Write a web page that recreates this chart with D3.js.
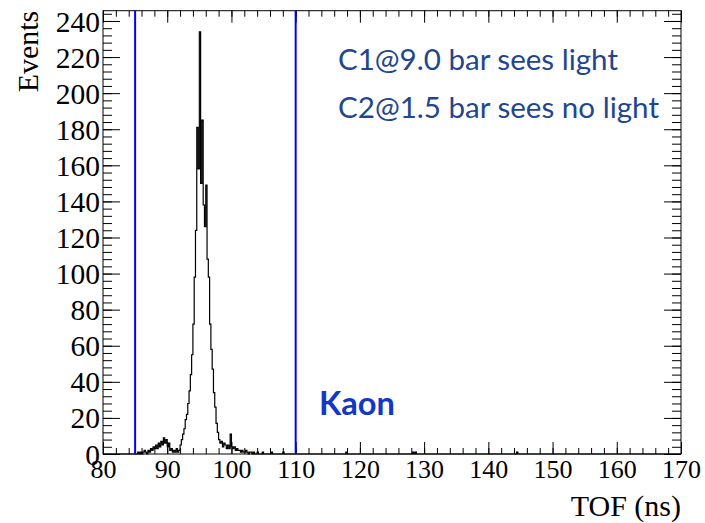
<!DOCTYPE html>
<html>
<head>
<meta charset="utf-8">
<script src="https://cdn.jsdelivr.net/npm/d3@7/dist/d3.min.js"></script>
<style>
  html, body { margin: 0; padding: 0; background: #fff; }
  svg { display: block; }
</style>
</head>
<body>
<svg id="chart" width="705" height="523"></svg>
<script>
// Time-of-flight histogram, 0.2 ns bins
const binWidth = 0.2;
const coreStart = 85.0;
// counts per bin starting at 85.0 ns
const coreCounts = [
  0, 0, 1, 0, 1, 0, 1, 2, 1, 0,
  2, 1, 3, 2, 4, 3, 5, 3, 6, 4,
  7, 5, 9, 6, 8, 4, 6, 2, 3, 1,
  2, 1, 3, 1, 2, 5, 8, 11, 14, 19,
  22, 28, 35, 44, 55, 72, 98, 124, 181, 158,
  234, 150, 185, 138, 126, 149, 108, 98, 72, 58,
  47, 34, 26, 17, 12, 8, 6, 7, 4, 6,
  5, 3, 5, 3, 11, 4, 3, 4, 2, 3,
  2, 2, 1, 2, 1, 1, 2, 1, 0, 1,
  1, 0, 1, 0, 0, 1, 0, 0, 0, 1,
  0, 0, 0, 0, 0, 0, 1, 0, 0, 0,
  0, 0, 0, 0, 0, 1, 0, 0, 0, 0,
  0, 0, 0, 0, 0
];
// isolated single entries further out (ns)
const lateHits = [117.9, 128.2, 128.6, 144.4];

const xTicks = [80, 90, 100, 110, 120, 130, 140, 150, 160, 170];
const yTicks = [0, 20, 40, 60, 80, 100, 120, 140, 160, 180, 200, 220, 240];
const cutLines = [85, 110];
const noteLines = ["C1@9.0 bar sees light", "C2@1.5 bar sees no light"];
const particle = "Kaon";

const xMin = 80, xMax = 170, yMax = 245.7;

const svg = d3.select("#chart");
const L = 103, R = 681, T = 10.7, B = 454;

const x = d3.scaleLinear().domain([xMin, xMax]).range([L, R]);
const y = d3.scaleLinear().domain([0, yMax]).range([B, T]);

// assemble full bin list over the axis range
const nBins = Math.round((xMax - xMin) / binWidth);
const counts = new Array(nBins).fill(0);
const off = Math.round((coreStart - xMin) / binWidth);
coreCounts.forEach((c, i) => { counts[off + i] = c; });
lateHits.forEach(v => { counts[Math.floor((v - xMin) / binWidth + 1e-9)] += 1; });
const steps = counts.map((c, i) => ({ t: xMin + i * binWidth, c }));
steps.push({ t: xMax, c: counts[nBins - 1] });

const serif = "'Liberation Serif', 'Times New Roman', serif";

// minor tick values
const xMinor = d3.range(xMin, xMax + 0.001, 2);
const yMinor = d3.range(0, yMax, 4);

// bottom axis: minor then major
const gxMinor = svg.append("g").attr("transform", `translate(0,${B})`)
  .call(d3.axisBottom(x).tickValues(xMinor).tickSize(-6).tickFormat(""));
const gx = svg.append("g").attr("transform", `translate(0,${B})`)
  .call(d3.axisBottom(x).tickValues(xTicks).tickSize(-12).tickPadding(6).tickFormat(d3.format("d")));
// top axis ticks
const gxtMinor = svg.append("g").attr("transform", `translate(0,${T})`)
  .call(d3.axisTop(x).tickValues(xMinor).tickSize(-6).tickFormat(""));
const gxt = svg.append("g").attr("transform", `translate(0,${T})`)
  .call(d3.axisTop(x).tickValues(xTicks).tickSize(-12).tickFormat(""));

// left axis
const gyMinor = svg.append("g").attr("transform", `translate(${L},0)`)
  .call(d3.axisLeft(y).tickValues(yMinor).tickSize(-9).tickFormat(""));
const gy = svg.append("g").attr("transform", `translate(${L},0)`)
  .call(d3.axisLeft(y).tickValues(yTicks).tickSize(-17).tickPadding(3).tickFormat(d3.format("d")));
// right axis ticks
const gyrMinor = svg.append("g").attr("transform", `translate(${R},0)`)
  .call(d3.axisRight(y).tickValues(yMinor).tickSize(-9).tickFormat(""));
const gyr = svg.append("g").attr("transform", `translate(${R},0)`)
  .call(d3.axisRight(y).tickValues(yTicks).tickSize(-17).tickFormat(""));

[gxMinor, gx, gxtMinor, gxt, gyMinor, gy, gyrMinor, gyr].forEach(g => {
  g.select(".domain").remove();
  g.selectAll(".tick line").attr("stroke", "#000").attr("stroke-width", 1);
});

gx.selectAll(".tick text")
  .attr("font-family", serif).attr("font-size", 26).attr("fill", "#000")
  .attr("dy", "0.7em");
gy.selectAll(".tick text")
  .attr("font-family", serif).attr("font-size", 29.5).attr("fill", "#000")
  .attr("dy", "0.34em");

// histogram outline
const stepLine = d3.line()
  .x(d => x(d.t))
  .y(d => y(d.c))
  .curve(d3.curveStepAfter);
svg.append("path")
  .datum(steps)
  .attr("d", stepLine)
  .attr("fill", "none")
  .attr("stroke", "#000")
  .attr("stroke-width", 1.2);

// frame
svg.append("rect")
  .attr("x", L).attr("y", T)
  .attr("width", R - L).attr("height", B - T)
  .attr("fill", "none").attr("stroke", "#000").attr("stroke-width", 1);

// selection window
svg.selectAll("line.cut")
  .data(cutLines)
  .enter().append("line")
  .attr("class", "cut")
  .attr("x1", d => x(d)).attr("x2", d => x(d))
  .attr("y1", y(0)).attr("y2", y(yMax))
  .attr("stroke", "#0000ff").attr("stroke-width", 2);

// axis titles
svg.append("text")
  .attr("transform", `translate(38,${T}) rotate(-90)`)
  .attr("text-anchor", "end")
  .attr("font-family", serif).attr("font-size", 30).attr("fill", "#000")
  .text("Events");
svg.append("text")
  .attr("x", R).attr("y", 516)
  .attr("text-anchor", "end")
  .attr("font-family", serif).attr("font-size", 30).attr("fill", "#000")
  .text("TOF (ns)");

// annotations
const sans = "Lato, 'Open Sans', sans-serif";
const noteWidths = [280, 321];
svg.selectAll("text.note")
  .data(noteLines)
  .enter().append("text")
  .attr("class", "note")
  .attr("x", 338)
  .attr("y", (d, i) => 70 + i * 48)
  .attr("font-family", sans).attr("font-size", 28.5)
  .attr("textLength", (d, i) => noteWidths[i])
  .attr("lengthAdjust", "spacingAndGlyphs")
  .attr("fill", "#1f4690")
  .text(d => d);

svg.append("text")
  .attr("x", 319).attr("y", 415)
  .attr("font-family", sans).attr("font-size", 32).attr("font-weight", "bold")
  .attr("textLength", 76)
  .attr("lengthAdjust", "spacingAndGlyphs")
  .attr("fill", "#1238c8")
  .text(particle);
</script>
</body>
</html>
